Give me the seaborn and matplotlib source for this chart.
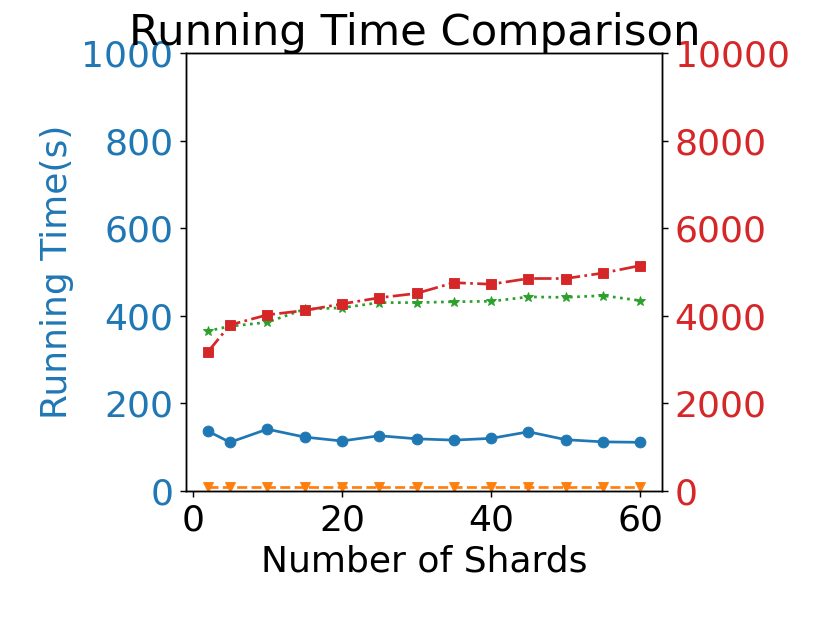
import matplotlib
matplotlib.use("Agg")
import matplotlib.pyplot as plt
import seaborn as sns
import pandas as pd

shards = [2, 5, 10, 15, 20, 25, 30, 35, 40, 45, 50, 55, 60]
blue_left = [137, 111, 141, 123, 114, 126, 119, 116, 120, 135, 117, 112, 111]
orange_left = [10, 10, 10, 10, 10, 10, 10, 10, 10, 10, 10, 10, 10]
green_right = [3650, 3760, 3850, 4150, 4180, 4300, 4300, 4320, 4330, 4430, 4420, 4460, 4345]
red_right = [3165, 3790, 4020, 4120, 4270, 4410, 4510, 4755, 4720, 4850, 4850, 4975, 5145]

left_ticks = [0, 200, 400, 600, 800, 1000]
right_ticks = [0, 2000, 4000, 6000, 8000, 10000]
x_ticks = [0, 20, 40, 60]

BLUE = "#1f77b4"
ORANGE = "#ff7f0e"
GREEN = "#2ca02c"
RED = "#d62728"

df = pd.DataFrame({"x": shards, "blue": blue_left, "orange": orange_left,
                   "green": green_right, "red": red_right})

fig, ax = plt.subplots(figsize=(830 / 130, 623 / 130), dpi=130)
fig.subplots_adjust(left=0.224, right=0.7976, top=0.915, bottom=0.212)
ax2 = ax.twinx()

common = dict(linewidth=1.5, markersize=6, markeredgewidth=0.5)
sns.lineplot(data=df, x="x", y="blue", ax=ax, color=BLUE, marker="o",
             linestyle="-", markeredgecolor=BLUE, **common)
sns.lineplot(data=df, x="x", y="orange", ax=ax, color=ORANGE, marker="v",
             linestyle="--", markeredgecolor=ORANGE, **common)
sns.lineplot(data=df, x="x", y="green", ax=ax2, color=GREEN, marker="*",
             linestyle=":", markeredgecolor=GREEN, **common)
sns.lineplot(data=df, x="x", y="red", ax=ax2, color=RED, marker="s",
             linestyle="-.", markeredgecolor=RED, **common)

ax.set_ylim(0, 1000)
ax2.set_ylim(0, 10000)
ax.set_yticks(left_ticks)
ax2.set_yticks(right_ticks)
ax.set_xticks(x_ticks)
ax.set_xlabel("Number of Shards", fontsize=20)
ax.set_ylabel("Running Time(s)", fontsize=20, color=BLUE)
ax2.set_ylabel("")
ax.tick_params(axis="y", labelcolor=BLUE, labelsize=20)
ax.tick_params(axis="x", labelsize=20)
ax2.tick_params(axis="y", labelcolor=RED, labelsize=20)
fig.suptitle("Running Time Comparison", fontsize=24)

fig.savefig("out.png", dpi=130)
